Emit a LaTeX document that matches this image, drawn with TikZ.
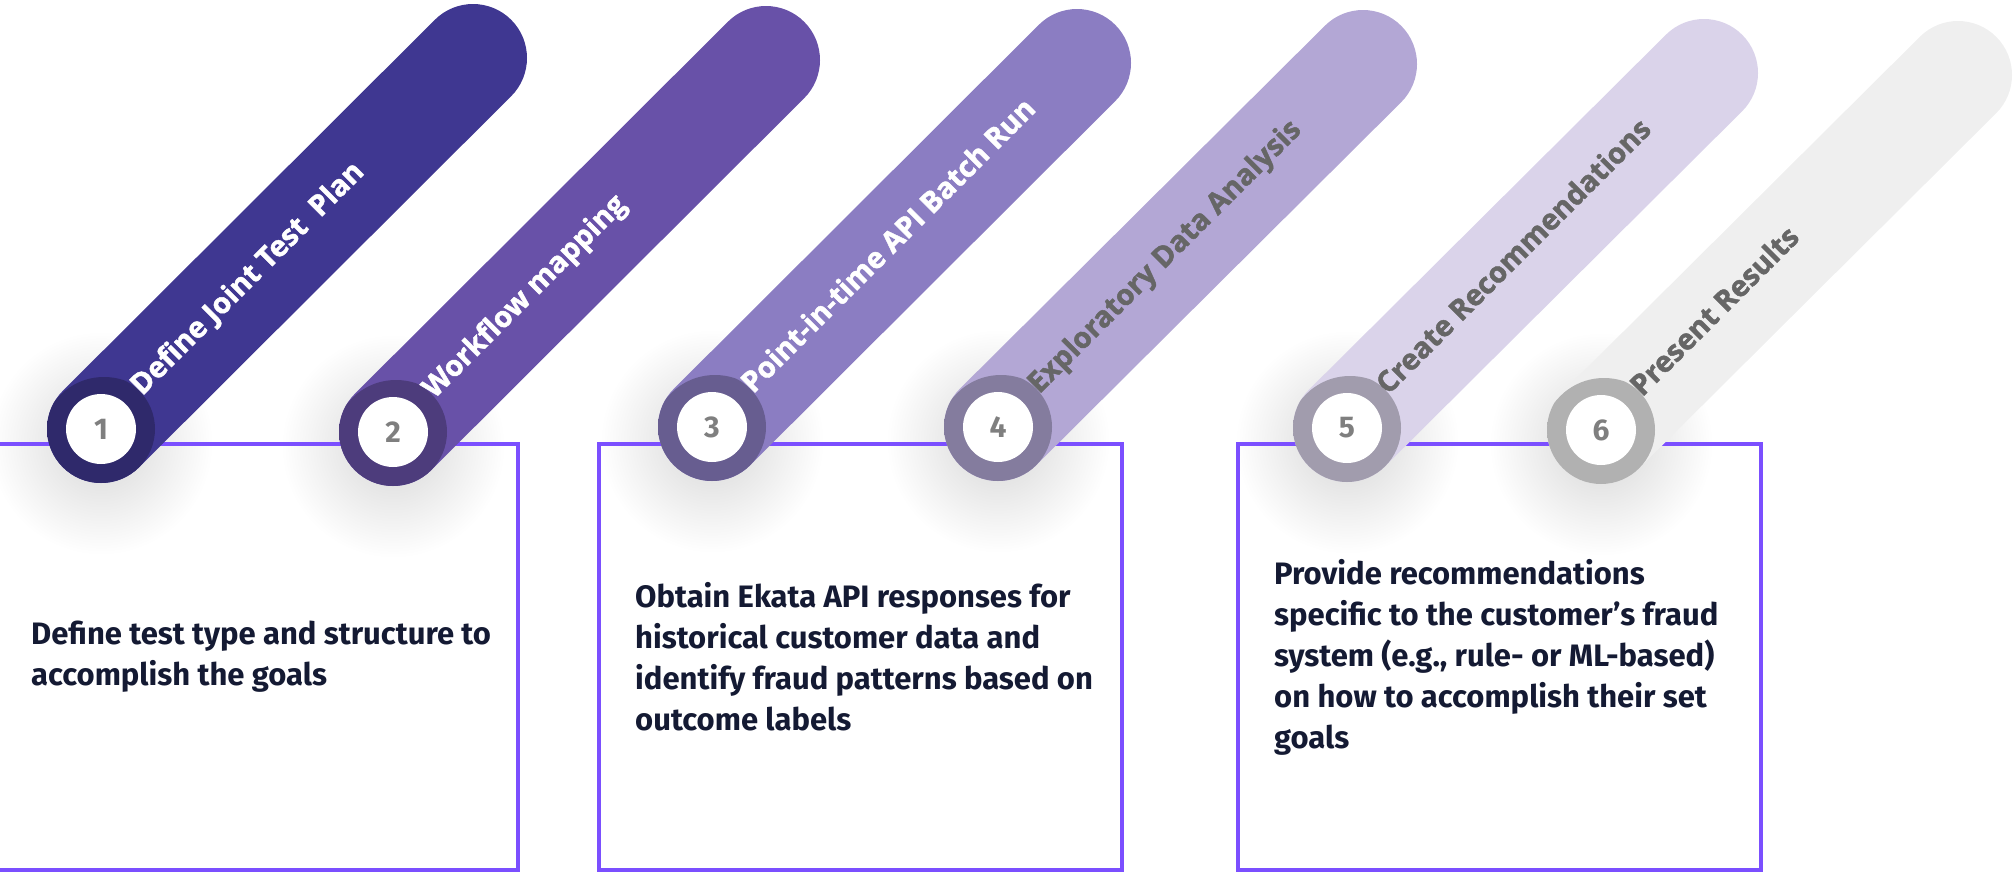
\documentclass[tikz,border=0pt]{standalone}
\usepackage{fontspec}
\setmainfont{Fira Sans}
\newfontfamily\pillfont{Open Sans}[BoldFeatures={FakeBold=1.6}]
\usetikzlibrary{positioning, calc}

\definecolor{stepone}{HTML}{3F3791}
\definecolor{steptwo}{HTML}{6851A8}
\definecolor{stepthree}{HTML}{8B7DC2}
\definecolor{stepfour}{HTML}{B3A7D5}
\definecolor{stepfive}{HTML}{DAD3EA}
\definecolor{stepsix}{HTML}{EFEFEF}
\definecolor{boxviolet}{HTML}{7B4FFF}
\definecolor{inkdark}{HTML}{141A33}
\definecolor{numgray}{HTML}{7F7F7F}
\definecolor{labelgray}{HTML}{666666}
\colorlet{shadeinner}{black}
\colorlet{shadeouter}{white}

\pgfdeclareradialshading[shadeinner,shadeouter]{badgeshade}{\pgfpointorigin}{color(0bp)=(shadeinner); color(27bp)=(shadeinner); color(50bp)=(shadeouter)}

\tikzset{
    pill/.style={line width=108pt, line cap=round},
    halo/.style={inner color=black!16, outer color=white},
    ringshade/.style={/utils/exec={\colorlet{shadeinner}{#1!74!black}\colorlet{shadeouter}{#1}},
        path picture={\shade[shading=badgeshade] ([xshift=3pt, yshift=-10pt]path picture bounding box.center) circle (62pt);}},
    badge/.style={circle, fill=white, minimum size=70pt, inner sep=0pt, text=numgray, font=\bfseries\fontsize{30}{30}\selectfont},
    steplabel/.style={rotate=45, anchor=base west, inner sep=0pt, font=\pillfont\bfseries\fontsize{29}{29}\selectfont},
    stagebox/.style={draw=boxviolet, line width=4pt, outer sep=0pt, minimum width=523pt, minimum height=426pt},
    boxtext/.style={align=left, inner sep=0pt, text=inkdark, font=\bfseries\fontsize{31}{41}\selectfont},
}

\begin{document}
\begin{tikzpicture}[x=1pt, y=1pt]
        \useasboundingbox (0, 0) rectangle (2015, -873);
        \coordinate (BaseOne) at (101, -429);
        \coordinate (TopOne) at (473, -58);
        \coordinate (BaseTwo) at (393, -432);
        \coordinate (TopTwo) at (766, -60);
        \coordinate (BaseThree) at (712, -427);
        \coordinate (TopThree) at (1077, -63);
        \coordinate (BaseFour) at (998, -427);
        \coordinate (TopFour) at (1363, -64);
        \coordinate (BaseFive) at (1347, -428);
        \coordinate (TopFive) at (1704, -73);
        \coordinate (BaseSix) at (1601, -430);
        \coordinate (TopSix) at (1958, -75);

        \shade[halo] ($(BaseOne) + (0, -14)$) circle (112);
        \shade[halo] ($(BaseTwo) + (0, -14)$) circle (112);
        \shade[halo] ($(BaseThree) + (0, -14)$) circle (112);
        \shade[halo] ($(BaseFour) + (0, -14)$) circle (112);
        \shade[halo] ($(BaseFive) + (0, -14)$) circle (112);
        \shade[halo] ($(BaseSix) + (0, -14)$) circle (112);

        \path (256.5, -657) node[stagebox](PlanBox){};
        \path (860.5, -657) node[stagebox](RunBox){};
        \path (1499.5, -657) node[stagebox](AdviceBox){};
        \node[boxtext, right=36pt of PlanBox.west](PlanText){Define test type and structure to\\accomplish the goals};
        \node[boxtext, right=36pt of RunBox.west](RunText){Obtain Ekata API responses for\\historical customer data and\\identify fraud patterns based on\\outcome labels};
        \node[boxtext, right=36pt of AdviceBox.west](AdviceText){Provide recommendations\\specific to the customer’s fraud\\system (e.g., rule- or ML-based)\\on how to accomplish their set\\goals};

        \draw[pill, stepone] (BaseOne) -- (TopOne);
        \path[ringshade=stepone] (BaseOne) circle (54);
        \path (BaseOne) node[badge](BadgeOne){1};
        \path ($(BaseOne)!52pt!(TopOne) + (-45:6)$) node[steplabel, white](LabelOne){Define Joint Test\ \ Plan};

        \draw[pill, steptwo] (BaseTwo) -- (TopTwo);
        \path[ringshade=steptwo] (BaseTwo) circle (54);
        \path (BaseTwo) node[badge](BadgeTwo){2};
        \path ($(BaseTwo)!52pt!(TopTwo) + (-45:6)$) node[steplabel, white](LabelTwo){Workflow mapping};

        \draw[pill, stepthree] (BaseThree) -- (TopThree);
        \path[ringshade=stepthree] (BaseThree) circle (54);
        \path (BaseThree) node[badge](BadgeThree){3};
        \path ($(BaseThree)!52pt!(TopThree) + (-45:6)$) node[steplabel, white](LabelThree){Point-in-time API Batch Run};

        \draw[pill, stepfour] (BaseFour) -- (TopFour);
        \path[ringshade=stepfour] (BaseFour) circle (54);
        \path (BaseFour) node[badge](BadgeFour){4};
        \path ($(BaseFour)!52pt!(TopFour) + (-45:6)$) node[steplabel, labelgray](LabelFour){Exploratory Data Analysis};

        \draw[pill, stepfive] (BaseFive) -- (TopFive);
        \path[ringshade=stepfive] (BaseFive) circle (54);
        \path (BaseFive) node[badge](BadgeFive){5};
        \path ($(BaseFive)!52pt!(TopFive) + (-45:6)$) node[steplabel, labelgray](LabelFive){Create Recommendations};

        \draw[pill, stepsix] (BaseSix) -- (TopSix);
        \path[ringshade=stepsix] (BaseSix) circle (54);
        \path (BaseSix) node[badge](BadgeSix){6};
        \path ($(BaseSix)!52pt!(TopSix) + (-45:6)$) node[steplabel, labelgray](LabelSix){Present Results};
\end{tikzpicture}
\end{document}
